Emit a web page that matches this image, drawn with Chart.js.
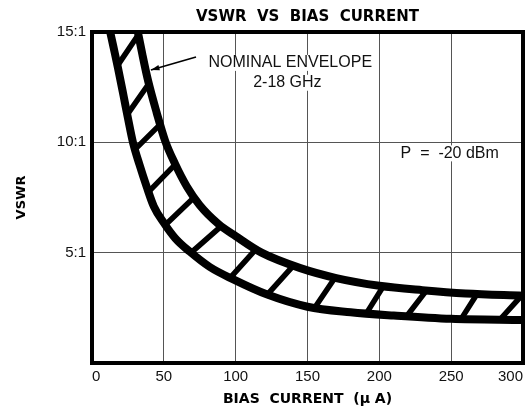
<!DOCTYPE html>
<html>
<head>
<meta charset="utf-8">
<script src="https://cdn.jsdelivr.net/npm/chart.js@4/dist/chart.umd.min.js"></script>
<style>
  body { margin: 0; background: #fff; }
  #wrap { width: 530px; height: 412px; }
</style>
</head>
<body>
<div id="wrap"><canvas id="chart" width="530" height="412"></canvas></div>
<script>
// upper edge of the envelope (bias current in uA, VSWR)
const upperX = [31, 35, 39, 45, 51, 58, 66, 75, 88, 100, 118, 145, 170, 200, 230, 260, 300];
const upperY = [15.3, 14.0, 12.8, 11.35, 10.05, 9.0, 8.0, 7.15, 6.3, 5.75, 5.0, 4.3, 3.85, 3.5, 3.3, 3.15, 3.05];

// lower edge of the envelope
const lowerX = [12, 15, 18, 22, 25, 28.5, 33, 38, 43, 50, 58, 68, 82, 98, 122, 150, 180, 210, 250, 300];
const lowerY = [15.2, 14.3, 13.4, 12.1, 11.1, 10.0, 9.0, 8.0, 7.1, 6.35, 5.65, 5.05, 4.35, 3.8, 3.1, 2.55, 2.3, 2.15, 2.0, 1.95];

// hatch bars between the two edges
const hatchLowX  = [18, 25, 31, 40, 51, 69, 96, 122, 155, 191, 219, 257, 284];
const hatchLowY  = [13.5, 11.3, 9.75, 7.8, 6.25, 5.0, 3.85, 3.1, 2.5, 2.25, 2.12, 2.0, 1.97];
const hatchHighX = [32, 40, 48, 58, 71, 90, 114, 140, 169, 203, 233, 268, 299];
const hatchHighY = [14.85, 12.7, 10.85, 9.0, 7.5, 6.2, 5.15, 4.4, 3.85, 3.5, 3.3, 3.13, 3.05];

const xTicks = [0, 50, 100, 150, 200, 250, 300];
const yTicks = [5, 10, 15];

function toPoints(xs, ys) {
  return xs.map((x, i) => ({ x: x, y: ys[i] }));
}

let hatchData = [];
hatchLowX.forEach((x, i) => {
  hatchData.push({ x: x, y: hatchLowY[i] });
  hatchData.push({ x: hatchHighX[i], y: hatchHighY[i] });
  hatchData.push({ x: hatchHighX[i], y: null }); // break between bars
});

// thick box round the plot
const framePlugin = {
  id: "frame",
  afterDatasetsDraw(chart) {
    const a = chart.chartArea;
    const ctx = chart.ctx;
    ctx.save();
    ctx.strokeStyle = "#000";
    ctx.lineWidth = 4;
    ctx.strokeRect(a.left, a.top, a.right - a.left, a.bottom - a.top);
    ctx.restore();
  }
};

// texts and arrow inside the plot
const notesPlugin = {
  id: "notes",
  afterDraw(chart) {
    const ctx = chart.ctx;
    const x = chart.scales.x, y = chart.scales.y;
    const notes = [
      { text: "NOMINAL ENVELOPE", v: 138, w: 13.6 },
      { text: "2-18 GHz", v: 136, w: 12.7 },
      { text: "P  =  -20 dBm", v: 249, w: 9.5 }
    ];
    ctx.save();
    ctx.font = "16px 'Liberation Sans', Arial, sans-serif";
    ctx.textAlign = "center";
    ctx.textBaseline = "middle";
    notes.forEach(n => {
      const px = x.getPixelForValue(n.v), py = y.getPixelForValue(n.w);
      const tw = ctx.measureText(n.text).width;
      ctx.fillStyle = "#fff";
      ctx.fillRect(px - tw / 2 - 2, py - 8, tw + 4, 16);
      ctx.fillStyle = "#111";
      ctx.fillText(n.text, px, py);
    });

    // arrow pointing at the envelope
    const x0 = x.getPixelForValue(72.4), y0 = y.getPixelForValue(13.87);
    const x1 = x.getPixelForValue(41), y1 = y.getPixelForValue(13.28);
    ctx.strokeStyle = "#000";
    ctx.lineWidth = 1.6;
    ctx.beginPath();
    ctx.moveTo(x0, y0);
    ctx.lineTo(x1, y1);
    ctx.stroke();
    const ang = Math.atan2(y1 - y0, x1 - x0);
    ctx.fillStyle = "#000";
    ctx.beginPath();
    ctx.moveTo(x1, y1);
    ctx.lineTo(x1 - 9 * Math.cos(ang - 0.3), y1 - 9 * Math.sin(ang - 0.3));
    ctx.lineTo(x1 - 9 * Math.cos(ang + 0.3), y1 - 9 * Math.sin(ang + 0.3));
    ctx.closePath();
    ctx.fill();
    ctx.restore();
  }
};

new Chart(document.getElementById("chart"), {
  type: "line",
  data: {
    datasets: [
      { data: toPoints(upperX, upperY), borderColor: "#000", borderWidth: 8, pointRadius: 0, cubicInterpolationMode: "monotone", clip: 0 },
      { data: toPoints(lowerX, lowerY), borderColor: "#000", borderWidth: 8, pointRadius: 0, cubicInterpolationMode: "monotone", clip: 0 },
      { data: hatchData, borderColor: "#000", borderWidth: 5.5, pointRadius: 0, tension: 0, spanGaps: false, clip: 0 }
    ]
  },
  options: {
    responsive: false,
    animation: false,
    layout: { padding: { left: 0, right: 7, top: 0, bottom: 0 } },
    plugins: {
      legend: { display: false },
      tooltip: { enabled: false },
      title: {
        display: true,
        text: "VSWR  VS  BIAS  CURRENT",
        fullSize: false,
        color: "#000",
        font: { family: "'DejaVu Sans'", size: 15, weight: "bold" },
        padding: { top: 8, bottom: 6 }
      }
    },
    scales: {
      x: {
        type: "linear",
        min: 0,
        max: 300,
        afterBuildTicks: s => { s.ticks = xTicks.map(v => ({ value: v })); },
        afterFit: s => { s.height = 49; },
        grid: { color: "#555", lineWidth: 1, drawTicks: false },
        border: { display: false },
        ticks: { align: "inner", padding: 5, color: "#111", font: { family: "'Liberation Sans'", size: 15 } },
        title: {
          display: true,
          text: "BIAS  CURRENT  (µ A)",
          color: "#000",
          font: { family: "'DejaVu Sans'", size: 14, weight: "bold" },
          padding: { top: 0, bottom: 4 }
        }
      },
      y: {
        min: 0,
        max: 15,
        afterBuildTicks: s => { s.ticks = [0].concat(yTicks).map(v => ({ value: v })); },
        afterFit: s => { s.width = 92; },
        grid: { color: "#555", lineWidth: 1, drawTicks: false },
        border: { display: false },
        ticks: {
          padding: 6,
          color: "#111",
          font: { family: "'Liberation Sans'", size: 15 },
          callback: v => v === 0 ? "" : v + ":1"
        },
        title: {
          display: true,
          text: "VSWR",
          color: "#000",
          font: { family: "'DejaVu Sans'", size: 13, weight: "bold" },
          padding: { top: 14 }
        }
      }
    }
  },
  plugins: [framePlugin, notesPlugin]
});
</script>
</body>
</html>
